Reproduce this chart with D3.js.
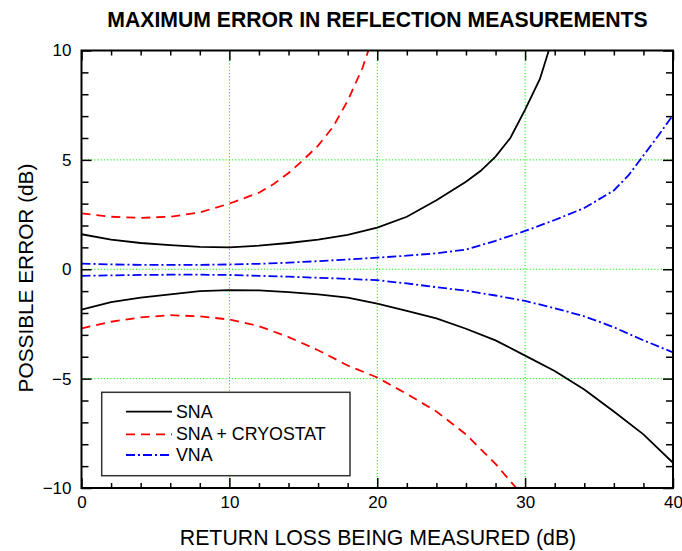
<!DOCTYPE html>
<html><head><meta charset="utf-8">
<script src="https://cdn.jsdelivr.net/npm/d3@7"></script>
<style>
html,body{margin:0;padding:0;background:#fff;}
text{font-family:Arial,"Liberation Sans",sans-serif;}
</style></head>
<body><svg id="c" width="682" height="551"></svg>
<script>
// ---- data ----
const title = "MAXIMUM ERROR IN REFLECTION MEASUREMENTS";
const xTitle = "RETURN LOSS BEING MEASURED (dB)";
const yTitle = "POSSIBLE ERROR (dB)";
const xTickLabels = [0, 10, 20, 30, 40];
const yTickLabels = [-10, -5, 0, 5, 10];
const seriesNames = ["SNA", "SNA + CRYOSTAT", "VNA"];

const snaUpperX = [0,2,4,6,8,10,12,14,16,18,20,22,24,26,27,28,29,30,31,31.6];
const snaUpperY = [1.6,1.35,1.2,1.1,1.02,1.0,1.08,1.2,1.35,1.57,1.9,2.4,3.15,4.0,4.5,5.15,6.0,7.3,8.7,10];
const snaLowerX = [0,2,4,6,8,10,12,14,16,18,20,22,24,26,28,30,32,34,36,38,40];
const snaLowerY = [-1.85,-1.5,-1.3,-1.15,-1.0,-0.95,-0.97,-1.05,-1.15,-1.3,-1.57,-1.9,-2.25,-2.72,-3.25,-3.95,-4.65,-5.5,-6.5,-7.55,-8.85];

const cryoUpperX = [0,2,4,6,8,10,12,13,14,15,16,17,18,19,19.4];
const cryoUpperY = [2.55,2.4,2.35,2.4,2.6,3.0,3.5,3.9,4.4,5.0,5.65,6.5,7.7,9.2,10];
const cryoLowerX = [0,2,4,6,8,10,12,14,16,18,20,22,24,26,28,29.4];
const cryoLowerY = [-2.7,-2.4,-2.2,-2.1,-2.15,-2.3,-2.6,-3.1,-3.7,-4.4,-4.95,-5.7,-6.5,-7.55,-8.9,-10];

const vnaUpperX = [0,2,4,6,8,10,12,14,16,18,20,22,24,26,28,30,32,34,36,37,38,39,40];
const vnaUpperY = [0.26,0.22,0.2,0.2,0.2,0.22,0.25,0.3,0.37,0.45,0.53,0.62,0.73,0.9,1.3,1.75,2.25,2.8,3.6,4.3,5.2,6.1,7.05];
const vnaLowerX = [0,2,4,6,8,10,12,14,16,18,20,22,24,26,28,30,32,34,36,38,40];
const vnaLowerY = [-0.3,-0.28,-0.26,-0.25,-0.25,-0.26,-0.3,-0.34,-0.39,-0.44,-0.5,-0.65,-0.82,-0.98,-1.2,-1.45,-1.78,-2.15,-2.65,-3.25,-3.8];

// ---- layout ----
const L = 81.5, R = 673, T = 50.5, B = 488;
const svg = d3.select("#c");
const x = d3.scaleLinear().domain([0, 40]).range([L, R]);
const y = d3.scaleLinear().domain([-10, 10]).range([B, T]);

const styles = {
  "SNA": {color: "#000000", dash: null},
  "SNA + CRYOSTAT": {color: "#ff0000", dash: "9,6"},
  "VNA": {color: "#0000ff", dash: "9,3,2,3"}
};

// title
svg.append("text").attr("x", 377.5).attr("y", 27).attr("text-anchor", "middle")
  .attr("font-size", 21.2).attr("font-weight", "bold").attr("fill", "#000").text(title);

// gridlines
const grid = svg.append("g").attr("stroke", "#00ee00").attr("stroke-width", 1).attr("stroke-dasharray", "1.2,2");
[10, 20, 30].forEach(v => grid.append("line").attr("x1", x(v)).attr("x2", x(v)).attr("y1", T).attr("y2", B));
[-5, 0, 5].forEach(v => grid.append("line").attr("y1", y(v)).attr("y2", y(v)).attr("x1", L).attr("x2", R));

// clip
svg.append("clipPath").attr("id", "clip").append("rect").attr("x", L).attr("y", T).attr("width", R - L).attr("height", B - T);

const line = d3.line().x(d => x(d[0])).y(d => y(d[1]));
const curves = [
  ["SNA", snaUpperX, snaUpperY], ["SNA", snaLowerX, snaLowerY],
  ["SNA + CRYOSTAT", cryoUpperX, cryoUpperY], ["SNA + CRYOSTAT", cryoLowerX, cryoLowerY],
  ["VNA", vnaUpperX, vnaUpperY], ["VNA", vnaLowerX, vnaLowerY]
];
const cg = svg.append("g").attr("clip-path", "url(#clip)");
curves.forEach(([name, xs, ys]) => {
  const st = styles[name];
  cg.append("path").datum(xs.map((v, i) => [v, ys[i]]))
    .attr("d", line).attr("fill", "none").attr("stroke", st.color)
    .attr("stroke-width", 1.8).attr("stroke-dasharray", st.dash);
});

// ticks (inward, all four sides)
const xMinor = d3.range(0, 41, 2).filter(v => v % 10 !== 0);
const yMinor = d3.range(-10, 11, 1).filter(v => v % 5 !== 0);
function tickAxis(gen, vals, size, transform) {
  const g = svg.append("g").attr("transform", transform)
    .call(gen.tickValues(vals).tickSize(size).tickFormat(""));
  g.select(".domain").remove();
  g.selectAll("line").attr("stroke", "#000").attr("stroke-width", 1.5);
}
tickAxis(d3.axisBottom(x), xMinor, -5, `translate(0,${B})`);
tickAxis(d3.axisBottom(x), xTickLabels, -10, `translate(0,${B})`);
tickAxis(d3.axisTop(x), xMinor, -5, `translate(0,${T})`);
tickAxis(d3.axisTop(x), xTickLabels, -10, `translate(0,${T})`);
tickAxis(d3.axisLeft(y), yMinor, -7, `translate(${L},0)`);
tickAxis(d3.axisLeft(y), yTickLabels, -10, `translate(${L},0)`);
tickAxis(d3.axisRight(y), yMinor, -7, `translate(${R},0)`);
tickAxis(d3.axisRight(y), yTickLabels, -10, `translate(${R},0)`);

// tick labels
const xl = svg.append("g").attr("transform", `translate(0,${B})`)
  .call(d3.axisBottom(x).tickValues(xTickLabels).tickSize(0).tickPadding(8).tickFormat(d3.format("d")));
xl.select(".domain").remove();
xl.selectAll("text").attr("font-size", 17).attr("font-family", "Arial, 'Liberation Sans', sans-serif").attr("fill", "#000");
const yl = svg.append("g").attr("transform", `translate(${L},0)`)
  .call(d3.axisLeft(y).tickValues(yTickLabels).tickSize(0).tickPadding(10).tickFormat(d3.format("d")));
yl.select(".domain").remove();
yl.selectAll("text").attr("font-size", 17).attr("font-family", "Arial, 'Liberation Sans', sans-serif").attr("fill", "#000");

// frame
svg.append("rect").attr("x", L).attr("y", T).attr("width", R - L).attr("height", B - T)
  .attr("fill", "none").attr("stroke", "#000").attr("stroke-width", 2);

// axis titles
svg.append("text").attr("x", 378).attr("y", 545).attr("text-anchor", "middle")
  .attr("font-size", 21.3).attr("fill", "#000").text(xTitle);
svg.append("text").attr("transform", "translate(33,278) rotate(-90)").attr("text-anchor", "middle")
  .attr("font-size", 20.8).attr("fill", "#000").text(yTitle);

// legend
const lg = svg.append("g");
lg.append("rect").attr("x", 101.7).attr("y", 392.3).attr("width", 248.3).attr("height", 83.4)
  .attr("fill", "#fff").attr("stroke", "#333").attr("stroke-width", 1.5);
const rowY = [411.7, 434.3, 455];
seriesNames.forEach((name, i) => {
  const st = styles[name];
  lg.append("line").attr("x1", 126).attr("x2", 172).attr("y1", rowY[i]).attr("y2", rowY[i])
    .attr("stroke", st.color).attr("stroke-width", 1.8).attr("stroke-dasharray", st.dash);
  lg.append("text").attr("x", 176).attr("y", rowY[i] + 6).attr("font-size", 17.8).attr("fill", "#000").text(name);
});
</script></body></html>
